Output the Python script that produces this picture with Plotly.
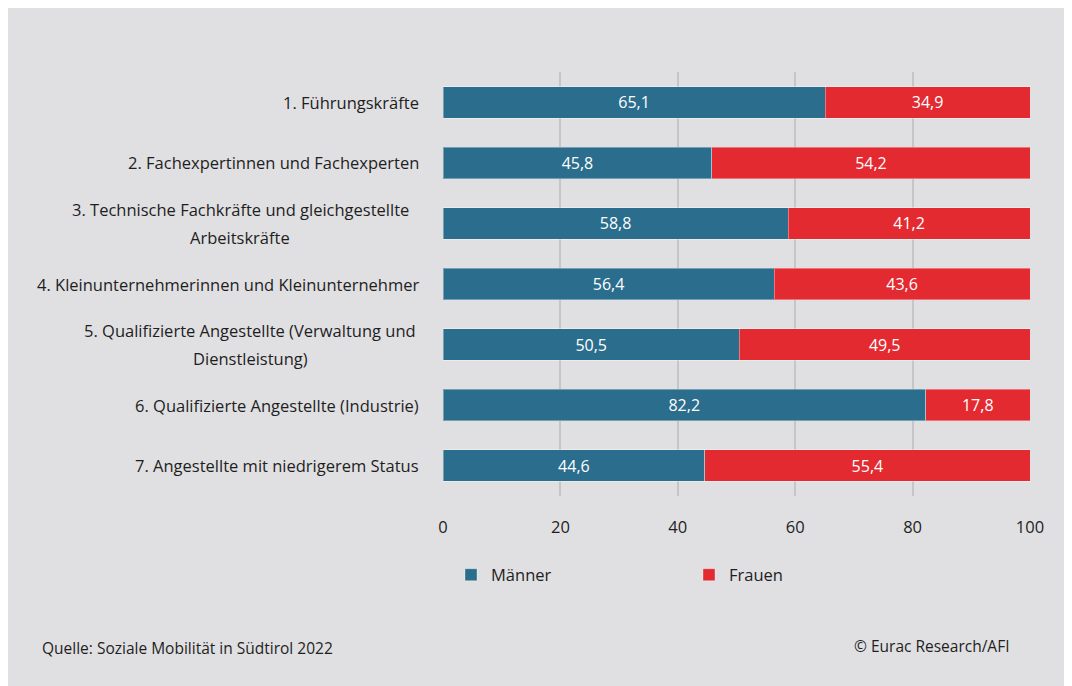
import plotly.graph_objects as go

categories = [
    "1. Führungskräfte",
    "2. Fachexpertinnen und Fachexperten",
    "3. Technische Fachkräfte und gleichgestellte|Arbeitskräfte",
    "4. Kleinunternehmerinnen und Kleinunternehmer",
    "5. Qualifizierte Angestellte (Verwaltung und|Dienstleistung)",
    "6. Qualifizierte Angestellte (Industrie)",
    "7. Angestellte mit niedrigerem Status",
]
maenner = [65.1, 45.8, 58.8, 56.4, 50.5, 82.2, 44.6]
frauen = [34.9, 54.2, 41.2, 43.6, 49.5, 17.8, 55.4]
x_ticks = [0, 20, 40, 60, 80, 100]

FONT = "Open Sans"
BLUE = "#2b6d8c"
RED = "#e32a31"
BG = "#e0e0e2"
TXT = "#1e1e1e"

W, H = 1064, 678
L, R, T, B = 435, 42, 64, 190
pw, ph = W - L - R, H - T - B

def px(x):
    return (x - L) / pw

def py(y):
    return (H - B - y) / ph

fig = go.Figure()
for name, vals, col in [("Männer", maenner, BLUE), ("Frauen", frauen, RED)]:
    fig.add_trace(go.Bar(
        y=categories, x=vals, name=name, orientation="h",
        marker=dict(color=col, line=dict(color="rgba(255,255,255,0.35)", width=1)),
        texttemplate="%{x:.1f}", textposition="inside", insidetextanchor="middle",
        textfont=dict(color="white", size=16, family=FONT), textangle=0,
        hoverinfo="skip",
    ))

annotations = []
centers = {2: 232, 4: 242}
for i, c in enumerate(categories):
    parts = c.split("|")
    if len(parts) == 1:
        annotations.append(dict(
            x=px(413), xref="paper", y=c, yref="y", text=parts[0],
            xanchor="right", yanchor="middle", showarrow=False,
            font=dict(family=FONT, size=16.5, color=TXT)))
    else:
        for j, p in enumerate(parts):
            annotations.append(dict(
                x=px(centers[i]), xref="paper", y=c, yref="y", text=p,
                xanchor="center", yanchor="middle", showarrow=False,
                yshift=14 - 28 * j,
                font=dict(family=FONT, size=16.5, color=TXT)))

annotations.append(dict(
    x=px(32), xref="paper", y=py(640), yref="paper",
    text="Quelle: Soziale Mobilität in Südtirol 2022",
    xanchor="left", yanchor="middle", showarrow=False,
    font=dict(family=FONT, size=15.5, color=TXT)))
annotations.append(dict(
    x=px(1004), xref="paper", y=py(638), yref="paper",
    text="© Eurac Research/AFI",
    xanchor="right", yanchor="middle", showarrow=False,
    font=dict(family=FONT, size=15.5, color=TXT)))

fig.update_layout(
    width=W, height=H,
    margin=dict(l=L, r=R, t=T, b=B, pad=0),
    barmode="stack", bargap=0.48,
    separators=",.",
    paper_bgcolor=BG, plot_bgcolor="rgba(0,0,0,0)",
    font=dict(family=FONT, color=TXT),
    showlegend=True,
    legend=dict(orientation="h", x=px(443), xanchor="left", y=py(567), yanchor="middle",
                font=dict(family=FONT, size=16.5, color=TXT),
                entrywidth=193, entrywidthmode="pixels",
                bgcolor="rgba(0,0,0,0)", traceorder="normal"),
    xaxis=dict(range=[0, 100], tickvals=x_ticks, showgrid=True, gridcolor="#c6c6c8",
               gridwidth=1.5, zeroline=False, showline=False,
               tickfont=dict(family=FONT, size=16.5, color=TXT),
               ticklabelstandoff=19, fixedrange=True),
    yaxis=dict(autorange="reversed", showticklabels=False, showgrid=False,
               zeroline=False, showline=False, fixedrange=True),
    annotations=annotations,
)

fig.write_html("out.html")
